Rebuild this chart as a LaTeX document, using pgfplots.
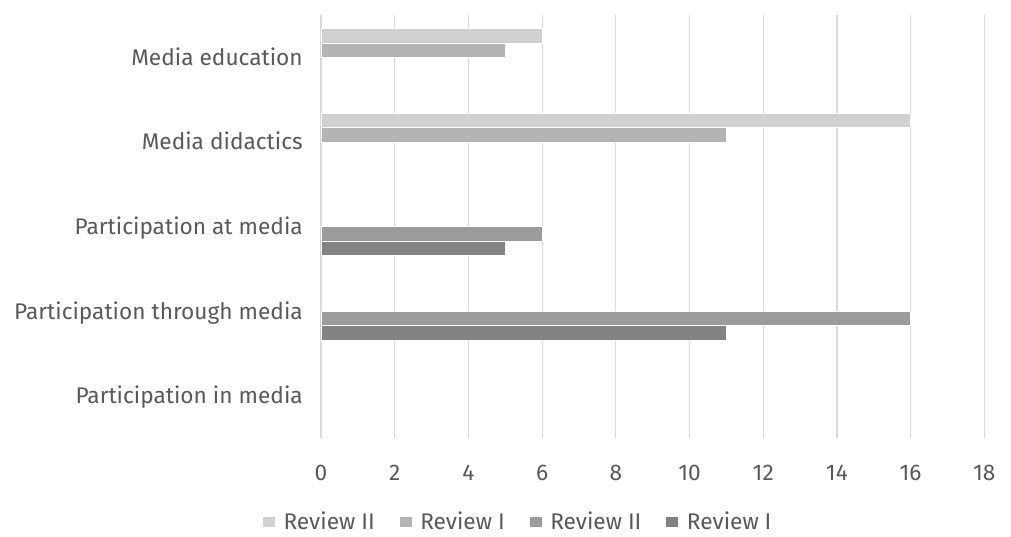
\documentclass[border=0pt]{standalone}
\usepackage{fontspec}
\setmainfont{Fira Sans}
\usepackage{pgfplots}
\pgfplotsset{compat=1.18}

\definecolor{txt}{HTML}{595959}
\definecolor{gridc}{HTML}{D9D9D9}
\definecolor{barA}{HTML}{D0D0D0}
\definecolor{barB}{HTML}{B4B4B4}
\definecolor{barC}{HTML}{9C9C9C}
\definecolor{barD}{HTML}{838383}

\begin{document}
\begin{tikzpicture}[x=1pt,y=1pt]
\path[use as bounding box] (0,0) rectangle (758.25,402);
\begin{axis}[
  at={(240.75pt,73.3pt)}, anchor=south west,
  scale only axis, width=497.5pt, height=317.5pt,
  xbar, bar width=10.725pt,
  xmin=0, xmax=18, xtick={0,2,...,18},
  ymin=-0.5, ymax=4.5, ytick={0,...,4},
  yticklabels={Participation in media, Participation through media,
    Participation at media, Media didactics, Media education},
  axis line style={draw=none},
  major tick length=0pt,
  xmajorgrids, grid style={gridc, line width=0.9pt},
  /pgf/number format/assume math mode=true,
  tick label style={font=\fontsize{17}{20}\selectfont, text=txt, inner sep=0pt},
  xticklabel style={anchor=base, yshift=-31.3pt},
  yticklabel style={anchor=base east, xshift=-13.5pt, yshift=-5.8pt},
  legend columns=-1,
  legend style={draw=none, fill=none, inner sep=0pt, outer sep=0pt,
    at={(-0.0889,-0.1969)}, anchor=west,
    font=\fontsize{17}{20}\selectfont, text=txt,
    nodes={inner sep=0pt},
    column sep=6pt,
    /tikz/every even column/.append style={column sep=18pt}},
  legend image code/.code={\fill[#1] (0pt,-4.1pt) rectangle (9.75pt,4.1pt);},
]
% Review II, media pedagogy group
\addplot[fill=barA, draw=white, line width=0.4pt, bar shift=16.09pt]
  coordinates {(6,4) (16,3)};
% Review I, media pedagogy group
\addplot[fill=barB, draw=white, line width=0.4pt, bar shift=5.36pt]
  coordinates {(5,4) (11,3)};
% Review II, participation group
\addplot[fill=barC, draw=white, line width=0.4pt, bar shift=-5.36pt]
  coordinates {(6,2) (16,1)};
% Review I, participation group
\addplot[fill=barD, draw=white, line width=0.4pt, bar shift=-16.09pt]
  coordinates {(5,2) (11,1)};
\legend{Review II, Review I, Review II, Review I}
\end{axis}
\end{tikzpicture}
\end{document}
